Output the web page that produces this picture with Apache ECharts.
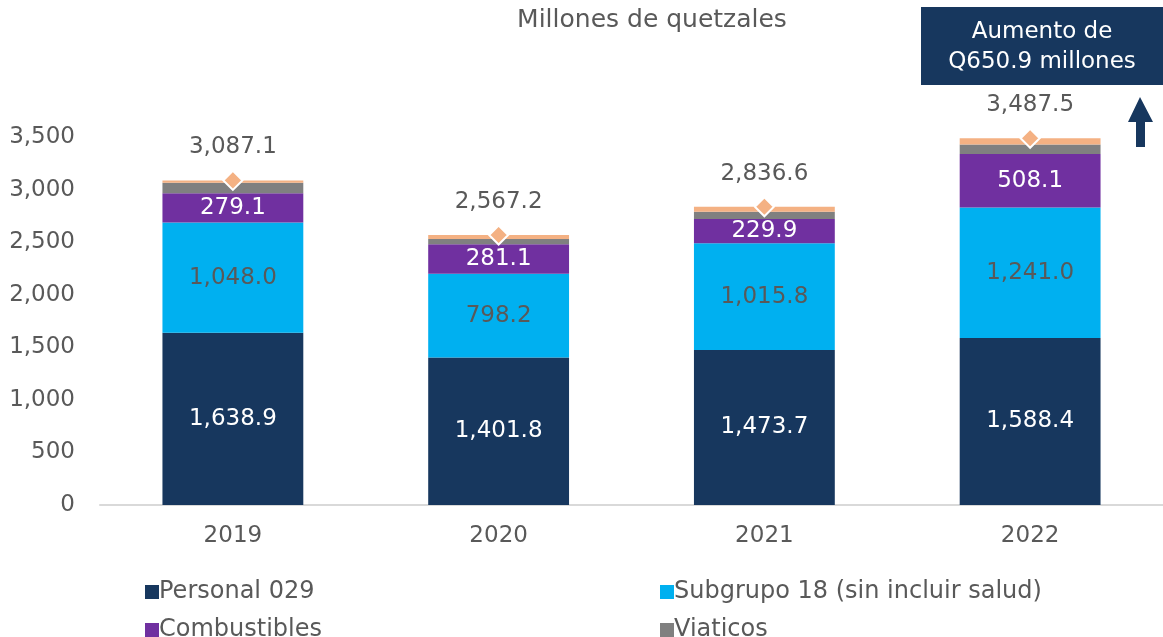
<!DOCTYPE html>
<html>
<head>
<meta charset="utf-8">
<script src="https://cdn.jsdelivr.net/npm/echarts@6/dist/echarts.min.js"></script>
<style>
  html, body { margin: 0; padding: 0; background: #fff; }
  #chart { width: 1163px; height: 637px; }
</style>
</head>
<body>
<div id="chart"></div>
<script>
// datos (millones de quetzales)
var years = ['2019', '2020', '2021', '2022'];
var personal = [1638.9, 1401.8, 1473.7, 1588.4];
var subgrupo = [1048.0, 798.2, 1015.8, 1241.0];
var combustibles = [279.1, 281.1, 229.9, 508.1];
var viaticos = [100.0, 48.0, 70.0, 91.0];
var otros = [21.1, 38.1, 47.2, 59.0];
var totales = [3087.1, 2567.2, 2836.6, 3487.5];
var yTicks = [0, 500, 1000, 1500, 2000, 2500, 3000, 3500];

var FONT = 'DejaVu Sans';
var GRIS = '#595959';
var FS = 23;

function fmt (v) {
  return v.toLocaleString('en-US', { minimumFractionDigits: 1, maximumFractionDigits: 1 });
}

function barSerie (name, data, color, labelColor) {
  return {
    name: name,
    type: 'bar',
    stack: 'total',
    barWidth: '53%',
    data: data,
    itemStyle: { color: color },
    label: labelColor ? {
      show: true,
      position: 'inside',
      color: labelColor,
      fontFamily: FONT,
      fontSize: FS,
      formatter: function (p) { return fmt(p.value) }
    } : { show: false }
  }
}

function leyenda (name, left, top) {
  return {
    data: [name],
    left: left,
    top: top,
    itemWidth: 14,
    itemHeight: 14,
    icon: 'rect',
    padding: 0,
    itemGap: 0,
    textStyle: { fontFamily: FONT, fontSize: 24, color: GRIS, padding: [0, 0, 0, -5] }
  }
}

var chart = echarts.init(document.getElementById('chart'));
chart.setOption({
  animation: false,
  textStyle: { fontFamily: FONT },
  title: {
    text: 'Millones de quetzales',
    left: 647,
    textAlign: 'center',
    top: 3,
    textStyle: { fontFamily: FONT, fontSize: 25, fontWeight: 'normal', color: GRIS }
  },
  grid: { left: 100, right: 0, top: 137, bottom: 132 },
  legend: [
    leyenda('Personal 029', 145, 580),
    leyenda('Combustibles', 145, 618),
    leyenda('Subgrupo 18 (sin incluir salud)', 660, 580),
    leyenda('Viaticos', 660, 618)
  ],
  xAxis: {
    type: 'category',
    data: years,
    axisLine: { lineStyle: { color: '#d9d9d9', width: 2 } },
    axisTick: { show: false },
    axisLabel: { fontFamily: FONT, fontSize: FS, color: GRIS, margin: 20 }
  },
  yAxis: {
    type: 'value',
    min: yTicks[0],
    max: yTicks[yTicks.length - 1],
    interval: 500,
    splitLine: { show: false },
    axisLine: { show: false },
    axisTick: { show: false },
    axisLabel: {
      fontFamily: FONT, fontSize: FS, color: GRIS, margin: 25,
      formatter: function (v) { return v.toLocaleString('en-US') }
    }
  },
  series: [
    barSerie('Personal 029', personal, '#17375e', '#ffffff'),
    barSerie('Subgrupo 18 (sin incluir salud)', subgrupo, '#00b0f0', GRIS),
    barSerie('Combustibles', combustibles, '#7030a0', '#ffffff'),
    barSerie('Viaticos', viaticos, '#808080', null),
    barSerie('Otros', otros, '#f4b183', null),
    {
      name: 'Total',
      type: 'scatter',
      data: totales,
      symbol: 'diamond',
      symbolSize: 19,
      z: 5,
      itemStyle: { color: '#f4b183', borderColor: '#ffffff', borderWidth: 2, opacity: 1 },
      label: {
        show: true,
        position: 'top',
        distance: 11,
        color: GRIS,
        fontFamily: FONT,
        fontSize: FS,
        formatter: function (p) { return fmt(p.value) }
      }
    }
  ],
  graphic: [
    {
      type: 'rect',
      shape: { x: 921, y: 7, width: 242, height: 78 },
      style: { fill: '#17375e' }
    },
    {
      type: 'text',
      x: 1042, y: 47,
      style: {
        text: 'Aumento de\nQ650.9 millones',
        fill: '#ffffff',
        font: '23px "DejaVu Sans"',
        align: 'center',
        verticalAlign: 'middle',
        lineHeight: 30
      }
    },
    {
      type: 'polygon',
      shape: { points: [[1140, 97], [1153, 122], [1145, 122], [1145, 147], [1136, 147], [1136, 122], [1128, 122]] },
      style: { fill: '#17375e' }
    }
  ]
});
</script>
</body>
</html>
